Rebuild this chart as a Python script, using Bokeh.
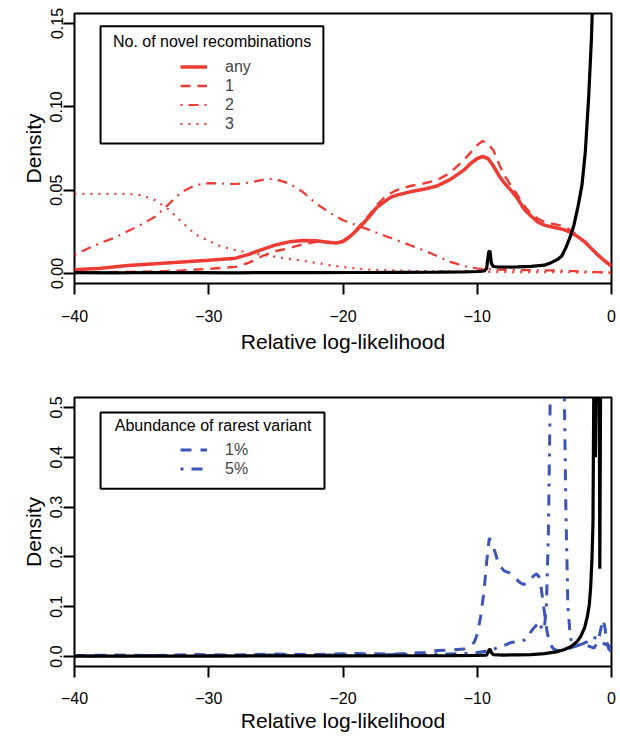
from bokeh.plotting import figure
from bokeh.layouts import column
from bokeh.models import (Range1d, FixedTicker, Legend, LegendItem, BoxAnnotation,
                          Label, NumeralTickFormatter)
from bokeh.embed import file_html
from bokeh.resources import INLINE

FONT = "Liberation Sans"
RED = "#ee3b33"
BLUE = "#3b55b8"

# ---------------- data: top panel (number of novel recombinations) ----------------
x_any = [-40, -38, -36, -34, -32, -30, -28, -27, -26, -25, -24, -23, -22, -21, -20.5, -20,
         -19.5, -19, -18.5, -18, -17.5, -17, -16.5, -16, -15, -14, -13, -12, -11, -10.5, -10,
         -9.6, -9.2, -8.8, -8.4, -8, -7.5, -7, -6.5, -6, -5.5, -5, -4.5, -4, -3.5, -3, -2.5,
         -2, -1.5, -1, -0.5, 0]
y_any = [0.0022, 0.0032, 0.0048, 0.0058, 0.0069, 0.0079, 0.0092, 0.0115, 0.0145, 0.0172,
         0.0190, 0.0198, 0.0196, 0.0186, 0.0183, 0.0192, 0.0220, 0.0258, 0.0300, 0.0345,
         0.0395, 0.0425, 0.0455, 0.0470, 0.0490, 0.0505, 0.0525, 0.0565, 0.0620, 0.0660,
         0.0690, 0.0702, 0.0690, 0.0645, 0.0590, 0.0545, 0.0500, 0.0450, 0.0385, 0.0345,
         0.0310, 0.0290, 0.0280, 0.0272, 0.0262, 0.0245, 0.0220, 0.0190, 0.0150, 0.0110,
         0.0075, 0.0045]
y_one = [0.0008, 0.0008, 0.0010, 0.0012, 0.0018, 0.0028, 0.0040, 0.0065, 0.0105, 0.0135,
         0.0152, 0.0175, 0.0190, 0.0190, 0.0188, 0.0196, 0.0225, 0.0265, 0.0310, 0.0355,
         0.0410, 0.0450, 0.0480, 0.0500, 0.0525, 0.0540, 0.0560, 0.0605, 0.0680, 0.0725,
         0.0770, 0.0795, 0.0780, 0.0740, 0.0660, 0.0590, 0.0530, 0.0470, 0.0405, 0.0360,
         0.0330, 0.0310, 0.0300, 0.0292, 0.0280, 0.0258, 0.0225, 0.0192, 0.0152, 0.0112,
         0.0077, 0.0046]

x_two = [-40, -39, -38, -37, -36, -35, -34, -33, -32, -31, -30, -29, -28, -27, -26, -25.5,
         -25, -24, -23, -22, -21, -20, -19, -18, -17, -16, -15, -14, -13, -12, -11, -10, -9,
         -8, -6, -4, -2, 0]
y_two = [0.0110, 0.0150, 0.0185, 0.0215, 0.0255, 0.0295, 0.0340, 0.0415, 0.0490, 0.0530,
         0.0542, 0.0540, 0.0537, 0.0545, 0.0562, 0.0568, 0.0565, 0.0540, 0.0490, 0.0420,
         0.0365, 0.0320, 0.0290, 0.0260, 0.0230, 0.0200, 0.0170, 0.0140, 0.0105, 0.0070,
         0.0045, 0.0030, 0.0025, 0.0022, 0.0020, 0.0018, 0.0012, 0.0005]

x_three = [-40, -38, -36, -35, -34, -33, -32, -31, -30, -29, -28, -27, -26, -25, -24, -23,
           -22, -21, -20, -19, -18, -16, -14, -12, -10, -8, -4, 0]
y_three = [0.0478, 0.0478, 0.0478, 0.0470, 0.0440, 0.0385, 0.0310, 0.0235, 0.0195, 0.0160,
           0.0140, 0.0125, 0.0112, 0.0100, 0.0088, 0.0076, 0.0064, 0.0050, 0.0039, 0.0030,
           0.0024, 0.0018, 0.0014, 0.0012, 0.0010, 0.0009, 0.0008, 0.0006]

x_ref1 = [-40, -37, -34, -31, -28, -25, -22, -19, -16, -13, -11, -10, -9.5, -9.3, -9.15,
          -9.05, -8.95, -8.8, -8.5, -8, -7, -6, -5, -4.5, -4, -3.7, -3.4, -3.1, -2.8, -2.5,
          -2.2, -1.95, -1.7, -1.5, -1.3, -1.0, -0.5, 0]
y_ref1 = [0.0005, 0.0004, 0.0006, 0.0005, 0.0004, 0.0006, 0.0005, 0.0006, 0.0007, 0.0008,
          0.0010, 0.0012, 0.0015, 0.0030, 0.0130, 0.0135, 0.0060, 0.0042, 0.0040, 0.0038,
          0.0040, 0.0043, 0.0050, 0.0065, 0.0085, 0.0105, 0.0155, 0.0215, 0.0290, 0.0400,
          0.0530, 0.0730, 0.1060, 0.1400, 0.1900, 0.2600, 0.4000, 0.6000]

# ---------------- data: bottom panel (abundance of rarest variant) ----------------
x_p1 = [-40, -37, -34, -31, -28, -25, -22, -19, -16, -14, -13, -12, -11, -10.5, -10.2, -10,
        -9.75, -9.5, -9.3, -9.1, -8.9, -8.7, -8.4, -8, -7.6, -7.2, -6.9, -6.6, -6.3, -6.0,
        -5.8, -5.6, -5.4, -5.25, -5.1, -4.95, -4.8, -4.6, -4.3, -4, -3.5, -3, -2.5, -2,
        -1.6, -1.3, -1.0, -0.8, -0.65, -0.5, -0.35, -0.2, 0]
y_p1 = [0.002, 0.003, 0.002, 0.004, 0.003, 0.005, 0.004, 0.006, 0.005, 0.008, 0.012, 0.013,
        0.015, 0.020, 0.030, 0.045, 0.080, 0.130, 0.190, 0.238, 0.225, 0.212, 0.185, 0.172,
        0.168, 0.160, 0.150, 0.145, 0.146, 0.155, 0.162, 0.166, 0.160, 0.140, 0.110, 0.080,
        0.050, 0.025, 0.015, 0.012, 0.013, 0.018, 0.022, 0.025, 0.020, 0.017, 0.030, 0.055,
        0.074, 0.060, 0.030, 0.015, 0.010]

x_p5 = [-40, -35, -30, -25, -20, -16, -13, -11, -10, -9, -8.5, -8, -7.5, -7, -6.5, -6.2,
        -6.0, -5.7, -5.5, -5.3, -5.15, -5.0, -4.85, -4.7, -4.55, -4.4, -4.0, -3.55, -3.4,
        -3.25, -3.1, -3.0, -2.6, -2.2, -1.8, -1.4, -1.0, -0.5, 0]
y_p5 = [0.001, 0.002, 0.002, 0.003, 0.003, 0.004, 0.005, 0.006, 0.008, 0.012, 0.018, 0.022,
        0.028, 0.030, 0.033, 0.040, 0.050, 0.060, 0.066, 0.055, 0.065, 0.058, 0.100, 0.250,
        0.550, 0.650, 0.700, 0.600, 0.300, 0.100, 0.050, 0.030, 0.022, 0.025, 0.030, 0.040,
        0.035, 0.025, 0.020]

x_ref2 = [-40, -35, -30, -25, -20, -15, -12, -10, -9.3, -9.15, -9.05, -8.95, -8.8, -8, -7,
          -6, -5, -4, -3.5, -3, -2.6, -2.3, -2.0, -1.8, -1.65, -1.55, -1.45, -1.38, -1.3,
          -1.2, -1.1, -1.0, -0.92, -0.87, -0.8, -0.65, -0.5, 0]
y_ref2 = [0.001, 0.001, 0.001, 0.0012, 0.0013, 0.0016, 0.002, 0.0025, 0.003, 0.012, 0.015,
          0.008, 0.004, 0.003, 0.0035, 0.004, 0.006, 0.010, 0.014, 0.020, 0.029, 0.040,
          0.058, 0.080, 0.105, 0.140, 0.200, 0.268, 0.620, 0.400, 0.620, 0.620, 0.600,
          0.176, 0.620, 0.620, 0.800, 1.000]

X_TICKS = [-40, -30, -20, -10, 0]
X_LABELS = ["\u221240", "\u221230", "\u221220", "\u221210", "0"]
Y1_TICKS = [0, 0.05, 0.10, 0.15]
Y2_TICKS = [0, 0.1, 0.2, 0.3, 0.4, 0.5]
LEG1_LABELS = ["any", "1", "2", "3"]
LEG2_LABELS = ["1%", "5%"]


def make_fig(height, border_top, border_bottom, ymin, ymax, yticks, yfmt,
             tick_standoff, label_standoff):
    p = figure(width=620, height=height, output_backend="svg", toolbar_location=None,
               x_range=Range1d(-40, 0), y_range=Range1d(ymin, ymax),
               min_border_left=74, min_border_right=9,
               min_border_top=border_top, min_border_bottom=border_bottom)
    p.grid.visible = False
    p.outline_line_color = "black"
    p.outline_line_width = 2
    p.outline_line_alpha = 1
    p.background_fill_color = "white"
    p.border_fill_color = "white"

    p.xaxis.ticker = FixedTicker(ticks=X_TICKS)
    p.xaxis.major_label_overrides = {t: l for t, l in zip(X_TICKS, X_LABELS)}
    p.yaxis.ticker = FixedTicker(ticks=yticks)
    p.yaxis.formatter = NumeralTickFormatter(format=yfmt)
    p.yaxis.major_label_orientation = "vertical"
    for ax in (p.xaxis, p.yaxis):
        ax.axis_line_color = None
        ax.major_tick_line_color = "black"
        ax.major_tick_line_width = 2
        ax.major_tick_in = 0
        ax.major_tick_out = 11
        ax.minor_tick_line_color = None
        ax.major_label_text_font = FONT
        ax.major_label_text_font_size = "16px"
        ax.major_label_text_color = "black"
        ax.axis_label_text_font = FONT
        ax.axis_label_text_font_size = "21px"
        ax.axis_label_text_font_style = "normal"
        ax.axis_label_text_color = "black"
    p.xaxis.major_label_standoff = tick_standoff
    p.xaxis.axis_label_standoff = label_standoff
    p.yaxis.major_label_standoff = 1
    p.yaxis.axis_label_standoff = 3
    p.xaxis.axis_label = "Relative log-likelihood"
    p.yaxis.axis_label = "Density"
    return p


# ---------------- top figure ----------------
p1 = make_fig(370, 13, 87, -0.006, 0.156, Y1_TICKS, "0.00", 15, 5)
r3 = p1.line(x_three, y_three, line_color=RED, line_width=2.2, line_dash="2 6")
r2 = p1.line(x_two, y_two, line_color=RED, line_width=2.2, line_dash="2 6 10 6")
r1 = p1.line(x_any, y_one, line_color=RED, line_width=2.4, line_dash="10 7")
r0 = p1.line(x_any, y_any, line_color=RED, line_width=3.5)
p1.line(x_ref1, y_ref1, line_color="black", line_width=3.2)

p1.add_layout(BoxAnnotation(left=-38.06, right=-21.46, top=0.1484, bottom=0.0780,
                            fill_color="white", fill_alpha=1.0,
                            line_color="black", line_width=2, line_alpha=1.0))
p1.add_layout(Label(x=-29.75, y=0.1390, text="No. of novel recombinations",
                    text_align="center", text_baseline="middle",
                    text_font=FONT, text_font_size="16px", text_color="black"))
leg1 = Legend(items=[LegendItem(label=l, renderers=[r]) for l, r in
                     zip(LEG1_LABELS, [r0, r1, r2, r3])],
              location=(106, 150), padding=0, margin=0, spacing=0,
              glyph_width=27, glyph_height=19, label_height=19, label_standoff=18,
              label_text_font=FONT, label_text_font_size="16px",
              border_line_color=None, background_fill_alpha=0)
p1.add_layout(leg1)

# ---------------- bottom figure ----------------
p2 = make_fig(366, 27, 70, -0.02, 0.52, Y2_TICKS, "0.0", 14, 2)
b1 = p2.line(x_p1, y_p1, line_color=BLUE, line_width=3, line_dash="11 9")
b5 = p2.line(x_p5, y_p5, line_color=BLUE, line_width=3, line_dash="3 8 11 8")
p2.line(x_ref2, y_ref2, line_color="black", line_width=3.2)

p2.add_layout(BoxAnnotation(left=-38.06, right=-21.38, top=0.4898, bottom=0.3366,
                            fill_color="white", fill_alpha=1.0,
                            line_color="black", line_width=2, line_alpha=1.0))
p2.add_layout(Label(x=-29.68, y=0.4636, text="Abundance of rarest variant",
                    text_align="center", text_baseline="middle",
                    text_font=FONT, text_font_size="16px", text_color="black"))
leg2 = Legend(items=[LegendItem(label=l, renderers=[r]) for l, r in
                     zip(LEG2_LABELS, [b1, b5])],
              location=(106, 188), padding=0, margin=0, spacing=0,
              glyph_width=27, glyph_height=19, label_height=19, label_standoff=18,
              label_text_font=FONT, label_text_font_size="16px",
              border_line_color=None, background_fill_alpha=0)
p2.add_layout(leg2)

layout = column(p1, p2, spacing=0)
open("out.html", "w").write(file_html(layout, INLINE))
